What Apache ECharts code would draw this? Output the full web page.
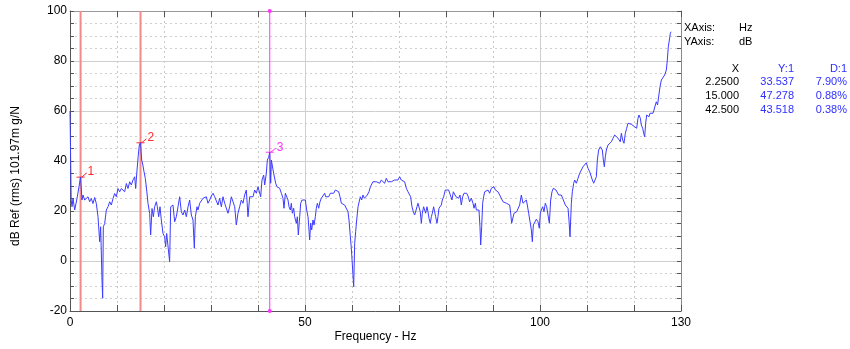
<!DOCTYPE html>
<html>
<head>
<meta charset="utf-8">
<script src="https://cdn.jsdelivr.net/npm/echarts@6/dist/echarts.min.js"></script>
<style>
  html, body { margin: 0; padding: 0; background: #fff; }
  #chart { width: 850px; height: 349px; }
</style>
</head>
<body>
<div id="chart"></div>
<script>
// spectrum: [frequency Hz, level dB]
var spectrum = [
  [0,60],[0.25,24.4],[0.43,21.7],[0.64,25],[1.0,20.4],[1.49,25],[1.91,25.7],[2.25,33.5],[2.55,24.4],[2.77,26.4],
  [3.12,24.4],[3.48,23.7],[3.83,25.7],[4.18,23.7],[4.54,25],[4.89,23],[5.25,25.4],[5.6,23],[5.96,17.7],[6.31,7.7],
  [6.52,13.7],[6.81,-7.6],[6.95,-14.9],[7.09,13.7],[7.38,15],[7.73,20.4],[8.09,21.7],[8.44,23.7],[8.79,22.4],[9.15,25],
  [9.5,27],[9.86,25.7],[10.2,29],[10.57,27.7],[10.92,29],[11.28,29.7],[11.63,27.7],[11.99,31],[12.34,29],[12.7,31.7],
  [13.05,30.4],[13.4,32.4],[13.76,33.7],[13.97,29],[14.26,36.4],[14.5,41.7],[14.75,46.4],[15,47.3],[15.25,40.4],[15.5,38.4],
  [15.75,35.7],[16.03,33],[16.31,28.4],[16.6,23],[16.95,19],[17.16,10.4],[17.45,21],[17.73,17.7],[18.01,21.7],[18.37,23.7],
  [18.58,21.7],[18.87,17.7],[19.15,21.7],[19.43,16.4],[19.79,11],[20.14,9.7],[20.35,5.7],[20.57,11],[20.85,11.7],[21.2,-0.3],
  [21.42,21.7],[21.7,21],[21.91,22.4],[22.27,15.7],[22.62,17.7],[22.98,21.7],[23.33,25.7],[23.69,19.7],[24.04,18.4],[24.4,20.4],
  [24.75,17.7],[25.11,21.7],[25.46,24.4],[25.82,18.4],[26.17,16.4],[26.45,5.1],[26.67,17.7],[27.02,21.7],[27.23,20.4],[27.59,23.1],
  [27.94,23.7],[28.3,25.1],[28.65,24.4],[29.01,25.7],[29.36,23.1],[29.72,24.4],[30.07,26],[30.43,27.1],[30.78,25.7],[31.14,26.4],
  [31.49,22.4],[31.84,25.1],[32.2,21.7],[32.55,25.7],[32.91,23.1],[33.26,23.7],[33.62,19.1],[33.97,21.7],[34.33,25.7],[34.68,26.4],
  [35.04,21.7],[35.39,14.4],[35.74,19.1],[36.1,21.7],[36.45,24.4],[36.81,23.1],[37.16,26.4],[37.52,28.4],[37.87,17.7],[38.23,25.7],
  [38.58,26.4],[38.94,25.7],[39.29,28.4],[39.65,27.1],[40.0,29.7],[40.35,29.1],[40.57,25.7],[40.85,32.4],[41.21,34.4],[41.42,30.4],
  [41.77,35.1],[41.99,40.4],[42.27,41.5],[42.5,43.5],[42.7,31.1],[42.84,40.4],[43.05,40.4],[43.33,35.1],[43.55,35.7],[43.76,31.1],
  [44.04,29.7],[44.26,30.4],[44.61,29.1],[44.97,27.1],[45.32,25.1],[45.53,21.1],[45.82,27.1],[46.03,27.7],[46.38,24.4],[46.6,21.7],
  [46.88,20.4],[47.09,23.1],[47.31,19.1],[47.59,21.1],[47.8,17.7],[48.16,15.1],[48.37,17.7],[48.58,10.4],[48.87,17.7],[49.08,23.1],
  [49.36,24.4],[49.65,25.1],[50.07,24.4],[50.36,20.4],[50.64,17.7],[50.85,12.4],[50.99,8.4],[51.21,15.1],[51.42,12.4],[51.7,16.4],
  [51.92,14.4],[52.2,17.7],[52.41,21.1],[52.63,23.1],[52.91,21.1],[53.19,23.7],[53.48,25.1],[53.83,24.4],[54.19,27.1],[54.4,25.7],
  [54.68,26.4],[55.04,25.7],[55.39,27.1],[55.75,26.4],[56.1,27.1],[56.46,28.4],[56.81,28.7],[57.17,27.7],[57.45,25.7],[57.73,23.1],
  [58.09,23.7],[58.44,22.4],[58.8,21.7],[59.15,19.7],[59.36,16.4],[59.65,9.7],[59.86,5.1],[60.14,5.7],[60.36,-10.3],[60.57,7.1],
  [60.78,11.7],[61.0,16.4],[61.28,21.7],[61.49,21.7],[61.77,25.7],[62.06,24.4],[62.34,26.4],[62.63,25.1],[62.91,25.7],[63.26,26.4],
  [63.62,27.7],[63.9,29.7],[64.11,30.4],[64.46,31.7],[64.82,31.1],[65.17,31.7],[65.53,32.4],[65.88,31.1],[66.24,32.4],[66.59,31.7],
  [66.95,31.1],[67.3,33.1],[67.66,31.7],[68.01,32.4],[68.36,31.7],[68.72,32.4],[69.07,32.4],[69.43,33.1],[69.78,32.4],[70.14,33.7],
  [70.49,32.4],[70.85,33.1],[71.2,31.7],[71.56,29.1],[71.91,27.7],[72.27,27.1],[72.48,25.7],[72.76,21.7],[73.05,19.7],[73.33,18.4],
  [73.54,19.1],[73.83,21.7],[74.04,23.1],[74.25,23.1],[74.53,19.7],[74.75,15.1],[74.96,19.1],[75.24,21.7],[75.46,20.4],[75.67,19.1],
  [75.95,21.7],[76.17,19.7],[76.38,17.1],[76.66,15.1],[76.88,17.7],[77.09,19.1],[77.37,21.7],[77.58,19.7],[77.8,17.7],[78.08,15.1],
  [78.29,17.7],[78.51,21.1],[78.79,21.7],[79.0,22.4],[79.22,24.4],[79.5,25.7],[79.85,28.4],[80.21,29.1],[80.56,28.4],[80.92,26.4],
  [81.27,24.4],[81.56,27.7],[81.84,27.1],[82.12,25.7],[82.41,26.4],[82.69,25.1],[82.97,26.4],[83.26,22.4],[83.54,25.7],[83.83,27.1],
  [84.11,26.4],[84.39,27.1],[84.68,26],[85.03,23.7],[85.39,25.1],[85.74,23.1],[85.96,21.1],[86.24,23.1],[86.45,20.4],[86.81,19.7],
  [87.02,20.4],[87.23,13.7],[87.38,6.4],[87.59,13.7],[87.8,23.1],[88.01,25.7],[88.23,27.7],[88.58,28.4],[88.94,28.4],[89.29,27.1],
  [89.65,29.1],[90.0,28.4],[90.21,29.7],[90.5,28.4],[90.78,29.1],[91.06,27.7],[91.42,26.4],[91.77,25.7],[92.13,23.7],[92.48,24.4],
  [92.84,23.1],[93.19,23.7],[93.55,22.4],[93.76,19.1],[93.97,15.1],[94.25,14.4],[94.47,19.1],[94.75,19.7],[95.03,19.7],[95.32,20.4],
  [95.67,22.4],[96.03,26.4],[96.38,23.1],[96.74,23.7],[97.09,24.4],[97.3,22.4],[97.59,19.1],[97.87,19.1],[98.16,12.4],[98.37,7.7],
  [98.58,14.4],[98.87,15.1],[99.22,16.7],[99.57,15.7],[99.86,13.1],[100.07,19.1],[100.28,20.4],[100.57,21.7],[100.85,19.7],[101.13,23.1],
  [101.42,21.7],[101.7,18.4],[101.99,15.1],[102.27,24.4],[102.55,27.7],[102.84,29.1],[103.12,29.7],[103.4,28.4],[103.69,27.7],[103.97,26.4],
  [104.26,27.1],[104.54,26.4],[104.82,25.1],[105.11,24.4],[105.39,22.4],[105.67,23.1],[105.96,21.1],[106.17,16.4],[106.38,9.7],[106.67,23.1],
  [106.88,27.7],[107.17,31.1],[107.38,32.4],[107.73,31.1],[108.09,33.1],[108.44,35.1],[108.8,36.4],[109.15,37.7],[109.51,38.4],[109.86,39.3],
  [110.21,37.1],[110.57,35.7],[110.92,35.1],[111.14,32.4],[111.42,31.1],[111.78,31.7],[111.99,33.7],[112.2,40.4],[112.48,44.4],[112.84,45.7],
  [113.05,46.4],[113.26,44.4],[113.48,40.4],[113.69,37.7],[113.9,41.7],[114.12,44.4],[114.47,46.4],[114.83,47.1],[115.18,47.7],[115.53,49.1],
  [115.89,50.4],[116.24,51.1],[116.6,49.1],[116.81,49.7],[117.09,47.7],[117.31,51.1],[117.59,48.4],[117.87,47.1],[118.16,51.1],[118.44,53.1],
  [118.72,55.1],[119.08,54.8],[119.43,54.7],[119.79,54.4],[120.14,53.7],[120.35,54.4],[120.57,53.1],[120.85,57.1],[121.06,58.4],[121.35,57.1],
  [121.56,54.4],[121.84,53.1],[122.06,51.1],[122.27,49.7],[122.48,55.1],[122.7,58.4],[122.98,59.1],[123.19,57.7],[123.4,59.1],[123.69,59.7],
  [124.04,59.1],[124.26,60.4],[124.54,62.4],[124.75,63.7],[125.01,62.4],[125.25,61.7],[125.53,69.7],[125.82,72.4],[126.17,73.1],[126.52,74.4],
  [126.88,76.4],[127.09,80.4],[127.3,85.7],[127.52,88.4],[127.73,91.1],[127.87,91.7]
];

// cursor readouts
var markerNames = ['1', '2', '3'];
var markerFreqs = [2.25, 15, 42.5];
var markerLevels = [33.537, 47.278, 43.518];
var markerDeltas = ['7.90%', '0.88%', '0.38%'];

var xLabelValues = [0, 50, 100, 130];

var lineColors = ['#f28a8a', '#f28a8a', '#ff33ff'];
var textColors = ['#ff2a2a', '#ff2a2a', '#ff33ff'];
var blue = '#2f2fff';
var font = '"Liberation Sans", Arial, sans-serif';

var chart = echarts.init(document.getElementById('chart'));

var panel = [
  { type: 'text', x: 684, y: 28, style: { text: 'XAxis:', fill: '#000', font: '11px ' + font, align: 'left', verticalAlign: 'middle' } },
  { type: 'text', x: 739, y: 28, style: { text: 'Hz', fill: '#000', font: '11px ' + font, align: 'left', verticalAlign: 'middle' } },
  { type: 'text', x: 684, y: 41.5, style: { text: 'YAxis:', fill: '#000', font: '11px ' + font, align: 'left', verticalAlign: 'middle' } },
  { type: 'text', x: 739, y: 41.5, style: { text: 'dB', fill: '#000', font: '11px ' + font, align: 'left', verticalAlign: 'middle' } },
  { type: 'text', x: 739, y: 69, style: { text: 'X', fill: '#000', font: '11px ' + font, align: 'right', verticalAlign: 'middle' } },
  { type: 'text', x: 794, y: 69, style: { text: 'Y:1', fill: blue, font: '11px ' + font, align: 'right', verticalAlign: 'middle' } },
  { type: 'text', x: 847, y: 69, style: { text: 'D:1', fill: blue, font: '11px ' + font, align: 'right', verticalAlign: 'middle' } }
];
markerFreqs.forEach(function (f, i) {
  var y = 81.5 + i * 14;
  panel.push({ type: 'text', x: 739, y: y, style: { text: f.toPrecision(5), fill: '#000', font: '11px ' + font, align: 'right', verticalAlign: 'middle' } });
  panel.push({ type: 'text', x: 794, y: y, style: { text: markerLevels[i].toFixed(3), fill: blue, font: '11px ' + font, align: 'right', verticalAlign: 'middle' } });
  panel.push({ type: 'text', x: 847, y: y, style: { text: markerDeltas[i], fill: blue, font: '11px ' + font, align: 'right', verticalAlign: 'middle' } });
});
panel.push({ type: 'text', x: 16, y: 176, rotation: Math.PI / 2, style: { text: 'dB Ref (rms) 101.97m g/N', fill: '#000', font: '12px ' + font, align: 'center', verticalAlign: 'middle' } });
panel.push({ type: 'text', x: 375.5, y: 337, style: { text: 'Frequency - Hz', fill: '#000', font: '12px ' + font, align: 'center', verticalAlign: 'middle' } });

var option = {
  animation: false,
  backgroundColor: '#fff',
  grid: { left: 70, right: 169, top: 11, bottom: 38 },
  xAxis: [
    {
      type: 'value', min: 0, max: 130, interval: 10, position: 'bottom',
      axisLine: { show: true, onZero: false, lineStyle: { color: '#555' } },
      axisTick: { show: true, inside: true, length: 6, lineStyle: { color: '#555' } },
      axisLabel: {
        color: '#000', fontSize: 12, fontFamily: font, margin: 6, showMaxLabel: true, showMinLabel: true,
        formatter: function (v) { return xLabelValues.indexOf(v) >= 0 ? String(v) : ''; }
      },
      splitLine: { show: true, lineStyle: { color: '#c8c8c8', type: [2, 3] } }
    },
    {
      type: 'value', min: 0, max: 130, interval: 10, position: 'top',
      axisLine: { show: true, onZero: false, lineStyle: { color: '#999' } },
      axisTick: { show: true, inside: true, length: 6, lineStyle: { color: '#555' } },
      axisLabel: { show: false },
      splitLine: { show: false }
    },
    {
      type: 'value', min: 0, max: 130, interval: 50, position: 'bottom',
      axisLine: { show: false, onZero: false }, axisTick: { show: false }, axisLabel: { show: false },
      splitLine: { show: true, lineStyle: { color: '#cfcfcf', width: 1 } }
    }
  ],
  yAxis: [
    {
      type: 'value', min: -20, max: 100, interval: 20, position: 'left',
      axisLine: { show: true, onZero: false, lineStyle: { color: '#555' } },
      axisTick: { show: true, inside: true, length: 4, lineStyle: { color: '#555' } },
      minorTick: { show: true, splitNumber: 4, length: 4, lineStyle: { color: '#555' } },
      axisLabel: { color: '#000', fontSize: 12, fontFamily: font, margin: 3 },
      splitLine: { show: true, lineStyle: { color: '#cfcfcf' } },
      minorSplitLine: { show: true, lineStyle: { color: '#cfcfcf', type: [2, 3] } }
    },
    {
      type: 'value', min: -20, max: 100, interval: 20, position: 'right',
      axisLine: { show: true, onZero: false, lineStyle: { color: '#888' } },
      axisTick: { show: true, inside: true, length: 4, lineStyle: { color: '#555' } },
      minorTick: { show: true, splitNumber: 4, length: 4, lineStyle: { color: '#555' } },
      axisLabel: { show: false },
      splitLine: { show: false }
    }
  ],
  graphic: panel,
  series: [
    {
      type: 'custom',
      coordinateSystem: 'cartesian2d',
      xAxisIndex: 0, yAxisIndex: 0,
      silent: true, clip: false, z: 1,
      data: markerFreqs.map(function (f, i) { return [f, markerLevels[i], i]; }),
      renderItem: function (params, api) {
        var f = api.value(0), v = api.value(1), i = api.value(2);
        var top = api.coord([f, 100]);
        var bot = api.coord([f, -20]);
        var p = api.coord([f, v]);
        var kids = [
          { type: 'line', shape: { x1: top[0], y1: top[1], x2: bot[0], y2: bot[1] },
            style: { stroke: lineColors[i], lineWidth: i < 2 ? 2 : 1 } },
          { type: 'line', shape: { x1: p[0] - 4, y1: p[1], x2: p[0] + 4, y2: p[1] },
            style: { stroke: textColors[i], lineWidth: 1 } },
          { type: 'line', shape: { x1: p[0] + 1, y1: p[1], x2: p[0] + 6, y2: p[1] - 4 },
            style: { stroke: textColors[i], lineWidth: 1 } },
          { type: 'text', x: p[0] + 7, y: p[1] - 5,
            style: { text: markerNames[i], fill: textColors[i], font: '12px ' + font, align: 'left', verticalAlign: 'middle' } }
        ];
        if (i === 2) {
          kids.push({ type: 'circle', shape: { cx: top[0], cy: top[1], r: 2 }, style: { fill: lineColors[i] } });
          kids.push({ type: 'circle', shape: { cx: bot[0], cy: bot[1], r: 2 }, style: { fill: lineColors[i] } });
        }
        return { type: 'group', children: kids };
      }
    },
    {
      type: 'line',
      xAxisIndex: 0, yAxisIndex: 0,
      data: spectrum,
      showSymbol: false,
      symbol: 'none',
      z: 3,
      lineStyle: { color: '#3c3cff', width: 1 }
    }
  ]
};
chart.setOption(option);
</script>
</body>
</html>
